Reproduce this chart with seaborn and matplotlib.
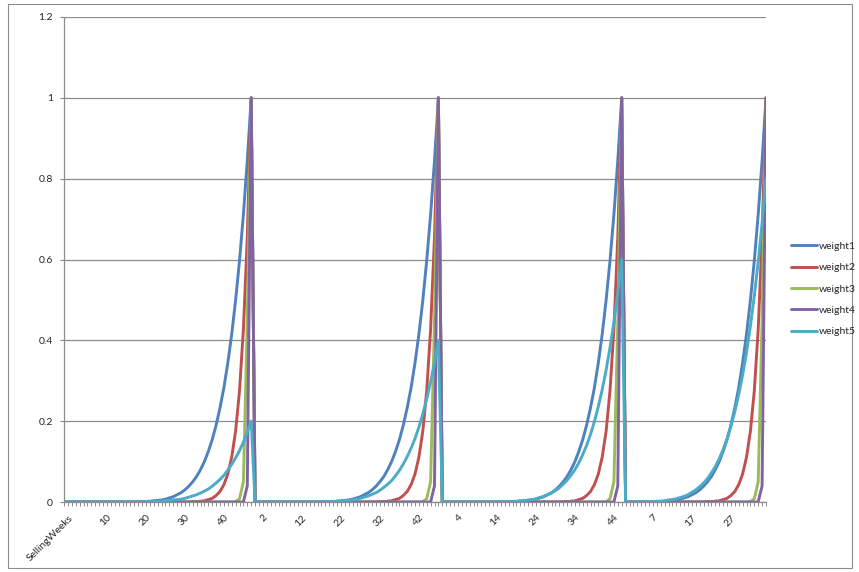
import matplotlib
matplotlib.use("Agg")
import matplotlib.pyplot as plt
import matplotlib.transforms as mtransforms
from matplotlib.patches import Rectangle
import pandas as pd
import seaborn as sns

# Category axis: a header entry followed by four selling seasons of weekly points
first_label = "SellingWeeks"
season_lengths = [48, 48, 47, 37]

series_names = ["weight1", "weight2", "weight3", "weight4", "weight5"]
series_colors = ["#4F81BD", "#C0504D", "#9BBB59", "#8064A2", "#4BACC6"]

y_ticks = [0, 0.2, 0.4, 0.6, 0.8, 1.0, 1.2]
y_tick_labels = ["0", "0.2", "0.4", "0.6", "0.8", "1", "1.2"]

# ---- weight1 (one list per season, week 1 .. last week) ----
w1_s1 = [0, 0, 0, 0, 0, 0, 0, 0, 0, 0,
         0, 0, 0, 0, 0, 0, 0, 0, .001, .001,
         .001, .002, .003, .004, .005, .007, .010, .013, .018, .023,
         .030, .039, .050, .063, .080, .100, .125, .154, .190, .233,
         .283, .344, .415, .499, .597, .711, .845, 1.0]
w1_s2 = [0, 0, 0, 0, 0, 0, 0, 0, 0, 0,
         0, 0, 0, 0, 0, 0, 0, 0, .001, .001,
         .001, .002, .003, .004, .005, .007, .010, .013, .018, .023,
         .030, .039, .050, .063, .080, .100, .125, .154, .190, .233,
         .283, .344, .415, .499, .597, .711, .845, 1.0]
w1_s3 = [0, 0, 0, 0, 0, 0, 0, 0, 0, 0,
         0, 0, 0, 0, 0, 0, 0, .001, .001, .001,
         .002, .003, .004, .005, .007, .010, .013, .018, .023, .030,
         .039, .050, .063, .080, .100, .125, .154, .190, .233, .283,
         .344, .415, .499, .597, .711, .845, 1.0]
w1_s4 = [0, 0, 0, 0, 0, 0, 0, .001, .001, .001,
         .002, .003, .004, .005, .007, .010, .013, .018, .023, .030,
         .039, .050, .063, .080, .100, .125, .154, .190, .233, .283,
         .344, .415, .499, .597, .711, .845, 1.0]

# ---- weight2 ----
w2_s1 = [0, 0, 0, 0, 0, 0, 0, 0, 0, 0,
         0, 0, 0, 0, 0, 0, 0, 0, 0, 0,
         0, 0, 0, 0, 0, 0, 0, 0, 0, 0,
         0, 0, .001, .001, .002, .003, .006, .009, .016, .026,
         .043, .069, .111, .175, .275, .427, .656, 1.0]
w2_s2 = [0, 0, 0, 0, 0, 0, 0, 0, 0, 0,
         0, 0, 0, 0, 0, 0, 0, 0, 0, 0,
         0, 0, 0, 0, 0, 0, 0, 0, 0, 0,
         0, 0, .001, .001, .002, .003, .006, .009, .016, .026,
         .043, .069, .111, .175, .275, .427, .656, 1.0]
w2_s3 = [0, 0, 0, 0, 0, 0, 0, 0, 0, 0,
         0, 0, 0, 0, 0, 0, 0, 0, 0, 0,
         0, 0, 0, 0, 0, 0, 0, 0, 0, 0,
         0, .001, .001, .002, .003, .006, .009, .016, .026, .043,
         .069, .111, .175, .275, .427, .656, 1.0]
w2_s4 = [0, 0, 0, 0, 0, 0, 0, 0, 0, 0,
         0, 0, 0, 0, 0, 0, 0, 0, 0, 0,
         0, .001, .001, .002, .003, .006, .009, .016, .026, .043,
         .069, .111, .175, .275, .427, .656, 1.0]

# ---- weight3 ----
w3_s1 = [0, 0, 0, 0, 0, 0, 0, 0, 0, 0,
         0, 0, 0, 0, 0, 0, 0, 0, 0, 0,
         0, 0, 0, 0, 0, 0, 0, 0, 0, 0,
         0, 0, 0, 0, 0, 0, 0, 0, 0, 0,
         0, 0, 0, .001, .008, .050, .450, 1.0]
w3_s2 = [0, 0, 0, 0, 0, 0, 0, 0, 0, 0,
         0, 0, 0, 0, 0, 0, 0, 0, 0, 0,
         0, 0, 0, 0, 0, 0, 0, 0, 0, 0,
         0, 0, 0, 0, 0, 0, 0, 0, 0, 0,
         0, 0, 0, .001, .008, .050, .450, 1.0]
w3_s3 = [0, 0, 0, 0, 0, 0, 0, 0, 0, 0,
         0, 0, 0, 0, 0, 0, 0, 0, 0, 0,
         0, 0, 0, 0, 0, 0, 0, 0, 0, 0,
         0, 0, 0, 0, 0, 0, 0, 0, 0, 0,
         0, 0, .001, .008, .050, .450, 1.0]
w3_s4 = [0, 0, 0, 0, 0, 0, 0, 0, 0, 0,
         0, 0, 0, 0, 0, 0, 0, 0, 0, 0,
         0, 0, 0, 0, 0, 0, 0, 0, 0, 0,
         0, 0, .001, .008, .050, .450, 1.0]

# ---- weight4 ----
w4_s1 = [0, 0, 0, 0, 0, 0, 0, 0, 0, 0,
         0, 0, 0, 0, 0, 0, 0, 0, 0, 0,
         0, 0, 0, 0, 0, 0, 0, 0, 0, 0,
         0, 0, 0, 0, 0, 0, 0, 0, 0, 0,
         0, 0, 0, 0, 0, 0, .040, 1.0]
w4_s2 = [0, 0, 0, 0, 0, 0, 0, 0, 0, 0,
         0, 0, 0, 0, 0, 0, 0, 0, 0, 0,
         0, 0, 0, 0, 0, 0, 0, 0, 0, 0,
         0, 0, 0, 0, 0, 0, 0, 0, 0, 0,
         0, 0, 0, 0, 0, 0, .040, 1.0]
w4_s3 = [0, 0, 0, 0, 0, 0, 0, 0, 0, 0,
         0, 0, 0, 0, 0, 0, 0, 0, 0, 0,
         0, 0, 0, 0, 0, 0, 0, 0, 0, 0,
         0, 0, 0, 0, 0, 0, 0, 0, 0, 0,
         0, 0, 0, 0, 0, .040, 1.0]
w4_s4 = [0, 0, 0, 0, 0, 0, 0, 0, 0, 0,
         0, 0, 0, 0, 0, 0, 0, 0, 0, 0,
         0, 0, 0, 0, 0, 0, 0, 0, 0, 0,
         0, 0, 0, 0, 0, .040, 1.0]

# ---- weight5 (season peak grows 0.2 -> 0.8) ----
w5_s1 = [0, 0, 0, 0, 0, 0, 0, 0, 0, 0,
         0, 0, 0, 0, 0, 0, 0, 0, 0, 0,
         .001, .001, .001, .002, .002, .003, .004, .005, .006, .007,
         .009, .012, .015, .018, .022, .027, .032, .039, .047, .056,
         .066, .079, .093, .109, .127, .148, .173, .200]
w5_s2 = [0, 0, 0, 0, 0, 0, 0, 0, 0, 0,
         0, 0, 0, 0, 0, 0, 0, 0, .001, .001,
         .001, .002, .002, .003, .004, .005, .007, .009, .012, .015,
         .019, .023, .029, .036, .044, .053, .065, .078, .094, .112,
         .133, .157, .185, .218, .255, .297, .345, .400]
w5_s3 = [0, 0, 0, 0, 0, 0, 0, 0, 0, 0,
         0, 0, 0, 0, 0, 0, .001, .001, .001, .002,
         .003, .003, .005, .006, .008, .011, .014, .018, .022, .028,
         .035, .044, .054, .066, .080, .097, .117, .140, .167, .199,
         .236, .278, .326, .382, .445, .518, .600]
w5_s4 = [0, 0, 0, 0, 0, 0, .001, .001, .002, .002,
         .003, .005, .006, .008, .011, .014, .018, .024, .030, .038,
         .047, .058, .072, .088, .107, .130, .156, .187, .223, .266,
         .314, .370, .435, .510, .594, .690, .800]

# The header category carries a zero for every series
weight1 = [0] + w1_s1 + w1_s2 + w1_s3 + w1_s4
weight2 = [0] + w2_s1 + w2_s2 + w2_s3 + w2_s4
weight3 = [0] + w3_s1 + w3_s2 + w3_s3 + w3_s4
weight4 = [0] + w4_s1 + w4_s2 + w4_s3 + w4_s4
weight5 = [0] + w5_s1 + w5_s2 + w5_s3 + w5_s4
series_values = [weight1, weight2, weight3, weight4, weight5]

categories = [first_label] + [str(w) for n in season_lengths for w in range(1, n + 1)]

rows = []
for name, vals in zip(series_names, series_values):
    for pos, v in enumerate(vals):
        rows.append((pos, v, name))
df = pd.DataFrame(rows, columns=["pos", "value", "series"])

sns.set_theme(style="white")
plt.rcParams["font.family"] = ["Lato", "DejaVu Sans"]

W, H = 859, 572
fig = plt.figure(figsize=(W / 100, H / 100), dpi=100)
fig.patch.set_facecolor("white")

# chart-area border
fig.patches.append(Rectangle((8 / W, 1 - 568 / H), (852 - 8) / W, (568 - 4) / H,
                             transform=fig.transFigure, fill=False,
                             edgecolor="#8C8C8C", linewidth=0.8))

x0, x1, ytop, ybot = 64, 766, 17, 502
ax = fig.add_axes([x0 / W, 1 - ybot / H, (x1 - x0) / W, (ybot - ytop) / H])

sns.lineplot(data=df, x="pos", y="value", hue="series", hue_order=series_names,
             palette=series_colors, linewidth=2.1, estimator=None, sort=False,
             ax=ax)

n_cat = len(categories)
ax.set_xlim(0, n_cat - 1)
ax.set_ylim(0, 1.2)
ax.set_xlabel("")
ax.set_ylabel("")

grid_col = "#8C8C8C"
ax.set_yticks(y_ticks)
ax.set_yticklabels(y_tick_labels)
ax.yaxis.grid(True, color=grid_col, linewidth=0.9)
ax.xaxis.grid(False)
ax.set_axisbelow(True)

major = list(range(0, 171, 10))
ax.set_xticks(major)
ax.set_xticklabels([categories[i] for i in major], rotation=45, ha="right",
                   va="top", rotation_mode="anchor")
ax.set_xticks(range(n_cat), minor=True)

ax.tick_params(axis="x", which="both", direction="out", length=3, width=0.7,
               color=grid_col, labelsize=7.5, pad=5, bottom=True)
ax.tick_params(axis="y", which="major", direction="out", length=3, width=0.8,
               color=grid_col, labelsize=7.5, pad=5, left=True)

shift = mtransforms.ScaledTranslation(4 / 100, 0, fig.dpi_scale_trans)
for lab in ax.get_xticklabels():
    lab.set_transform(lab.get_transform() + shift)

for side in ("top", "right"):
    ax.spines[side].set_visible(False)
for side in ("left", "bottom"):
    ax.spines[side].set_color(grid_col)
    ax.spines[side].set_linewidth(0.9)

handles, labels = ax.get_legend_handles_labels()
ax.get_legend().remove()
fig.legend(handles, labels, loc="center left",
           bbox_to_anchor=(791 / W, 1 - 289 / H), frameon=False,
           fontsize=7.5, handlelength=2.5, handletextpad=0.15,
           labelspacing=1.15, borderpad=0, borderaxespad=0)

fig.savefig("out.png", dpi=100, facecolor="white")
